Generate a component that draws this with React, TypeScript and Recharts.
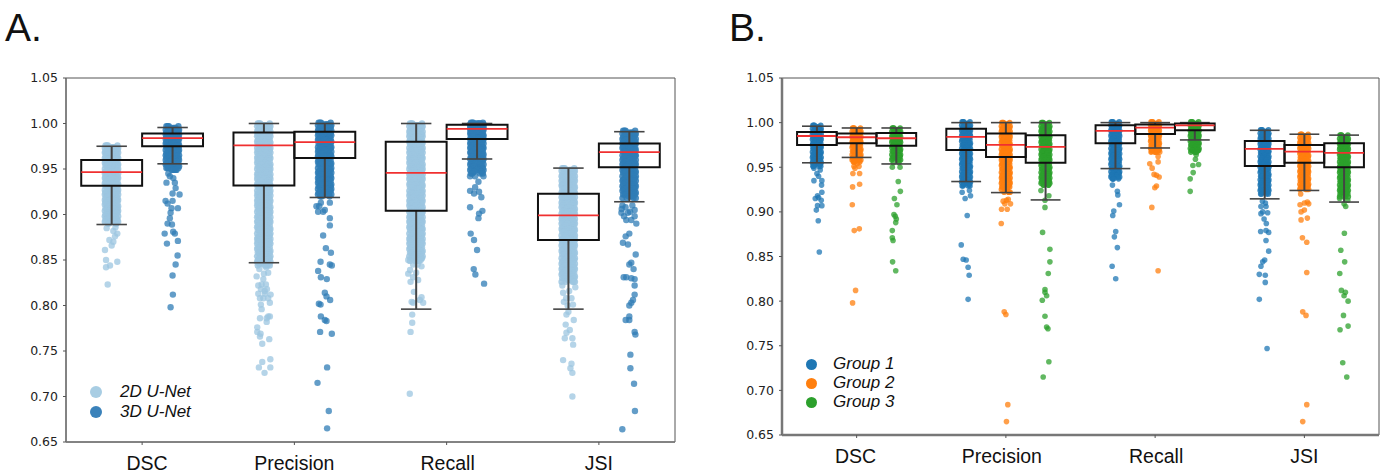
import React from 'react';
import { ScatterChart, Scatter, XAxis, YAxis, ReferenceArea } from 'recharts';

const metrics = ['DSC', 'Precision', 'Recall', 'JSI'];
const yTicks = [0.65, 0.7, 0.75, 0.8, 0.85, 0.9, 0.95, 1.0, 1.05];

// core = the dense part of each strip (values x 1000), tail = [jitter, value] x 1000
const coreJitter = [-0.9, 0.3, -0.4, 0.85, -0.1, 0.6, -0.7, 0.15, 0.95, -0.55, 0.45, -1, 0.7];

// panel A
const dsc2dCore = [976, 974, 973, 971, 969, 968, 966, 964, 962, 961, 959, 957, 955, 954, 952, 950, 948, 947, 945, 943, 941, 940, 938, 936, 934, 933, 931, 929, 927, 925, 924, 922, 920, 918, 916, 915, 913, 911, 909, 907, 906, 904, 902, 900, 898, 896, 894, 892, 890];
const dsc2dTail = [[-44, 861], [-37, 850], [37, 848], [-11, 844], [-37, 842], [-26, 823], [0, 866], [11, 870], [22, 876], [37, 879], [-33, 885], [11, 882], [-15, 872], [25, 886]];
const dsc3dCore = [997, 995, 993, 992, 990, 988, 986, 985, 983, 981, 979, 978, 976, 974, 972, 971, 969, 967, 965, 964, 962, 960, 958, 956, 955, 953, 951, 949];
const dsc3dTail = [[46, 922], [0, 923], [20, 929], [-46, 915], [0, 915], [-33, 912], [-7, 907], [35, 907], [-13, 902], [-18, 896], [-33, 890], [-4, 889], [4, 881], [15, 879], [-52, 879], [35, 871], [-37, 868], [33, 855], [20, 845], [0, 833], [2, 812], [-13, 798], [-40, 935], [15, 935], [-18, 942], [26, 949], [-28, 945], [5, 940]];
const prec2dCore = [1000, 998, 997, 995, 993, 991, 989, 988, 986, 984, 982, 980, 979, 977, 975, 973, 971, 970, 968, 966, 964, 962, 961, 959, 957, 955, 953, 952, 950, 948, 946, 944, 943, 941, 939, 937, 935, 933, 932, 930, 928, 926, 924, 923, 921, 919, 917, 915, 913, 912, 910, 908, 906, 904, 903, 901, 899, 897, 895, 893, 892, 890, 888, 886, 884, 883, 881, 879, 877, 875, 873, 872, 870, 868, 866, 864, 862, 860, 858, 856, 854, 852, 850, 848, 846, 844];
const prec2dTail = [[28, 788], [39, 788], [18, 782], [-26, 786], [-44, 776], [-44, 771], [-22, 769], [-26, 766], [35, 763], [-11, 758], [42, 741], [-11, 738], [-33, 732], [42, 732], [4, 726], [-15, 796], [39, 803], [-20, 801], [18, 786], [44, 812], [7, 813], [-37, 813], [-4, 808], [28, 808], [-26, 808], [-48, 832], [28, 836], [-15, 823], [13, 823], [-37, 822], [-4, 829], [-30, 840], [15, 842], [0, 835], [-20, 818], [20, 818], [5, 816]];
const prec3dCore = [1001, 999, 998, 996, 994, 992, 991, 989, 987, 985, 983, 982, 980, 978, 976, 974, 973, 971, 969, 967, 965, 964, 962, 960, 958, 956, 955, 953, 951, 949, 947, 946, 944, 942, 940, 938, 937, 935, 933, 931, 929, 928, 926, 924, 922, 920];
const prec3dTail = [[33, 896], [33, 888], [-11, 877], [7, 863], [40, 858], [-28, 848], [33, 845], [46, 844], [-44, 838], [-26, 831], [13, 829], [0, 814], [11, 810], [35, 806], [-39, 802], [-28, 801], [-26, 788], [0, 784], [11, 783], [-31, 771], [46, 769], [15, 732], [-48, 715], [26, 684], [15, 665], [-55, 909], [-11, 903], [-44, 903], [0, 905], [33, 913], [-26, 913], [-37, 909]];
const rec2dCore = [1000, 998, 997, 995, 993, 991, 989, 988, 986, 984, 982, 980, 979, 977, 975, 973, 971, 970, 968, 966, 964, 962, 961, 959, 957, 955, 953, 952, 950, 948, 946, 944, 943, 941, 939, 937, 935, 933, 932, 930, 928, 926, 924, 923, 921, 919, 917, 915, 913, 912, 910, 908, 906, 904, 903, 901, 899, 897, 895, 893, 892, 890, 888, 886, 884, 883, 881, 879, 877, 875, 873, 872, 870, 868, 866, 864, 862, 860, 858, 856, 854, 852, 849];
const rec2dTail = [[-26, 790], [-26, 781], [-37, 771], [-42, 703], [35, 809], [46, 803], [-20, 803], [-30, 804], [24, 806], [-15, 815], [13, 828], [-37, 826], [-20, 831], [-52, 835], [0, 836], [-52, 850], [30, 850], [35, 843], [-40, 839], [10, 845], [-20, 845]];
const rec3dCore = [1001, 1000, 999, 998, 997, 996, 995, 994, 993, 992, 990, 989, 987, 986, 984, 983, 981, 979, 978, 976, 974, 973, 971, 969, 968, 966, 964, 962, 961, 959, 957, 955, 953, 951, 949, 947, 945];
const rec3dTail = [[42, 942], [-46, 942], [-13, 942], [9, 936], [-13, 930], [-46, 926], [-20, 923], [13, 925], [28, 919], [-46, 908], [35, 904], [13, 901], [9, 896], [-42, 879], [-20, 872], [0, 861], [-22, 840], [-11, 834], [46, 824]];
const jsi2dCore = [951, 949, 948, 946, 944, 942, 941, 939, 937, 935, 933, 932, 930, 928, 926, 924, 923, 921, 919, 917, 915, 913, 912, 910, 908, 906, 904, 903, 901, 899, 897, 895, 893, 892, 890, 888, 886, 884, 883, 881, 879, 877, 875, 873, 872, 870, 868, 866, 864, 862, 860, 858, 856, 854, 852, 850, 848, 846, 844, 842, 840, 838, 836, 834, 832, 830, 828, 826];
const jsi2dTail = [[35, 826], [-35, 814], [45, 820], [-40, 822], [5, 816], [-15, 808], [20, 808], [-30, 804], [-5, 800], [30, 801], [0, 793], [-13, 790], [35, 784], [-18, 779], [9, 773], [-13, 770], [-24, 764], [26, 764], [31, 757], [-35, 740], [20, 736], [13, 731], [26, 726], [26, 700]];
const jsi3dCore = [992, 990, 989, 987, 985, 983, 982, 980, 978, 976, 974, 973, 971, 969, 967, 965, 964, 962, 960, 958, 956, 955, 953, 951, 949, 947, 946, 944, 942, 940, 938, 937, 935, 933, 931, 929, 928, 926, 924, 922, 920, 918];
const jsi3dTail = [[-52, 902], [35, 905], [46, 890], [-20, 894], [13, 894], [-9, 902], [35, 898], [0, 879], [-24, 876], [-42, 869], [-9, 867], [42, 856], [13, 847], [0, 845], [28, 840], [-37, 831], [-20, 831], [35, 829], [13, 830], [35, 822], [35, 812], [24, 806], [13, 803], [0, 800], [0, 788], [-24, 784], [0, 784], [35, 771], [40, 768], [7, 746], [7, 731], [31, 714], [37, 684], [-46, 664], [-45, 910], [-25, 908], [20, 910], [-50, 906], [5, 903], [-35, 898]];

// panel B
const dscG1Core = [997, 995, 993, 991, 989, 987, 985, 983, 981, 979, 977, 975, 973, 971, 969, 967, 965, 963, 961, 959, 957, 955, 953, 951];
const dscG1Tail = [[-20, 935], [33, 935], [31, 930], [33, 922], [4, 918], [-11, 915], [11, 916], [29, 913], [4, 907], [33, 907], [-4, 902], [9, 890], [16, 855], [22, 947], [-20, 949], [0, 943], [11, 940]];
const dscG2Core = [994, 992, 990, 988, 986, 984, 982, 980, 978, 976, 974, 972, 970, 968, 966, 964, 962, 960, 958, 956];
const dscG2Tail = [[-25, 943], [20, 943], [-27, 928], [20, 931], [-29, 908], [-16, 879], [18, 881], [-7, 812], [-27, 798], [-18, 951], [16, 951], [4, 954], [-11, 949]];
const dscG3Core = [994, 992, 990, 988, 986, 984, 982, 980, 978, 976, 974, 972, 970, 968, 966, 964, 962, 960, 958];
const dscG3Tail = [[-27, 950], [25, 950], [13, 934], [27, 923], [-13, 915], [4, 908], [-16, 897], [-7, 895], [0, 892], [-4, 888], [-27, 879], [-27, 871], [-22, 868], [-25, 844], [-4, 834], [-20, 955], [18, 955]];
const precG1Core = [1001, 999, 997, 995, 993, 991, 989, 987, 985, 983, 981, 979, 977, 975, 973, 971, 969, 967, 965, 963, 961, 959, 957, 955, 953, 951, 949, 947, 945, 943, 941, 939, 937, 935, 933, 931, 929];
const precG1Tail = [[-7, 915], [29, 918], [-27, 922], [22, 924], [7, 896], [-33, 863], [-20, 847], [0, 846], [13, 838], [20, 829], [13, 802]];
const precG2Core = [1000, 998, 996, 994, 992, 990, 988, 986, 984, 982, 980, 978, 976, 974, 972, 970, 968, 966, 964, 962, 960, 958, 956, 954, 952, 950, 948, 946, 944, 942, 940, 938, 936, 934, 932, 930, 928, 925, 922];
const precG2Tail = [[4, 913], [-29, 903], [9, 903], [31, 909], [-18, 912], [16, 914], [-7, 909], [-31, 887], [-11, 788], [0, 785], [13, 684], [4, 665]];
const precG3Core = [1000, 998, 996, 994, 992, 990, 988, 986, 984, 982, 980, 978, 976, 974, 972, 970, 968, 966, 964, 962, 960, 958, 956, 954, 952, 950, 948, 946, 944, 942, 940, 938, 936, 934, 932, 930];
const precG3Tail = [[-31, 924], [22, 918], [-4, 913], [-4, 905], [-20, 877], [29, 858], [29, 844], [18, 831], [-4, 813], [-4, 810], [7, 806], [-22, 801], [-4, 783], [7, 771], [16, 769], [22, 732], [-16, 715]];
const recG1Core = [1001, 999, 997, 995, 993, 991, 989, 987, 985, 983, 981, 979, 977, 975, 973, 971, 969, 967, 965, 963, 961, 959, 957, 955, 953, 951, 949, 947, 945, 943, 941, 939, 937];
const recG1Tail = [[-20, 930], [13, 923], [16, 919], [27, 908], [-11, 901], [-18, 896], [2, 878], [-7, 872], [13, 860], [-22, 839], [2, 825]];
const recG2Core = [1001, 999, 997, 995, 993, 991, 989, 987, 985, 983, 981, 979, 977, 975, 973, 971, 969, 967];
const recG2Tail = [[-22, 968], [20, 962], [31, 967], [20, 956], [-36, 954], [-20, 949], [-7, 942], [9, 941], [27, 939], [9, 929], [-2, 927], [-22, 905], [20, 834]];
const recG3Core = [1001, 999, 997, 995, 993, 991, 989, 987, 985, 983, 981, 979, 977, 975, 973, 971, 969, 967];
const recG3Tail = [[9, 964], [4, 959], [-13, 952], [25, 953], [-11, 944], [-31, 937], [-31, 923]];
const jsiG1Core = [992, 990, 988, 986, 984, 982, 980, 978, 976, 974, 972, 970, 968, 966, 964, 962, 960, 958, 956, 954, 952, 950, 948, 946, 944, 942, 940, 938, 936, 934, 932, 930, 928, 926, 924, 922, 920];
const jsiG1Tail = [[-25, 906], [9, 906], [-25, 898], [20, 899], [-13, 900], [-4, 892], [11, 887], [-27, 878], [9, 879], [27, 877], [9, 868], [27, 856], [0, 846], [-13, 844], [-25, 839], [-36, 830], [4, 829], [4, 821], [-36, 802], [16, 747], [-15, 912], [5, 910]];
const jsiG2Core = [987, 985, 983, 981, 979, 977, 975, 973, 971, 969, 967, 965, 963, 961, 959, 957, 955, 953, 951, 949, 947, 945, 943, 941, 939, 937, 935, 933, 931, 929, 927, 925];
const jsiG2Tail = [[-29, 908], [0, 910], [29, 909], [-22, 900], [0, 902], [-22, 891], [20, 893], [-13, 871], [16, 866], [16, 832], [-11, 788], [11, 784], [16, 684], [-11, 665], [20, 911], [-25, 920]];
const jsiG3Core = [986, 984, 982, 980, 978, 976, 974, 972, 970, 968, 966, 964, 962, 960, 958, 956, 954, 952, 950, 948, 946, 944, 942, 940, 938, 936, 934, 932, 930, 928, 926, 924, 922, 920, 917];
const jsiG3Tail = [[11, 906], [0, 909], [2, 876], [-22, 857], [4, 844], [-29, 831], [-18, 812], [9, 810], [0, 806], [27, 800], [-4, 784], [27, 772], [-27, 768], [-9, 731], [18, 715], [-30, 915], [25, 913]];

// boxes: q1, median, q3, lower whisker, upper whisker
const dsc2dBox = [0.9315, 0.9465, 0.96, 0.889, 0.975];
const dsc3dBox = [0.975, 0.984, 0.989, 0.9557, 0.9956];
const prec2dBox = [0.932, 0.976, 0.99, 0.847, 1.0];
const prec3dBox = [0.962, 0.9795, 0.991, 0.9187, 1.0];
const rec2dBox = [0.904, 0.9458, 0.98, 0.796, 1.0];
const rec3dBox = [0.983, 0.994, 0.9985, 0.961, 1.0];
const jsi2dBox = [0.872, 0.899, 0.9227, 0.796, 0.951];
const jsi3dBox = [0.952, 0.9685, 0.978, 0.914, 0.991];

const dscG1Box = [0.975, 0.985, 0.9896, 0.955, 0.996];
const dscG2Box = [0.977, 0.9836, 0.9877, 0.961, 0.994];
const dscG3Box = [0.974, 0.9825, 0.9884, 0.9537, 0.994];
const precG1Box = [0.9694, 0.984, 0.993, 0.934, 1.0];
const precG2Box = [0.9616, 0.975, 0.9877, 0.9216, 1.0];
const precG3Box = [0.955, 0.9728, 0.9858, 0.9134, 1.0];
const recG1Box = [0.977, 0.9907, 0.997, 0.9485, 1.0];
const recG2Box = [0.9873, 0.9944, 0.998, 0.9716, 1.0];
const recG3Box = [0.9914, 0.997, 0.999, 0.9806, 1.0];
const jsiG1Box = [0.9515, 0.9705, 0.9795, 0.9146, 0.9914];
const jsiG2Box = [0.955, 0.9675, 0.975, 0.924, 0.987];
const jsiG3Box = [0.95, 0.966, 0.977, 0.911, 0.986];

type Group = { name: string; color: string; legend: string; offset: number; core: number[][]; tails: number[][][]; boxes: number[][] };

const panelA: Group[] = [
  { name: '2D U-Net', color: '#9cc6e0', legend: '#a8cde3', offset: -0.2, core: [dsc2dCore, prec2dCore, rec2dCore, jsi2dCore], tails: [dsc2dTail, prec2dTail, rec2dTail, jsi2dTail], boxes: [dsc2dBox, prec2dBox, rec2dBox, jsi2dBox] },
  { name: '3D U-Net', color: '#2f7cb6', legend: '#3a82ba', offset: 0.2, core: [dsc3dCore, prec3dCore, rec3dCore, jsi3dCore], tails: [dsc3dTail, prec3dTail, rec3dTail, jsi3dTail], boxes: [dsc3dBox, prec3dBox, rec3dBox, jsi3dBox] },
];

const panelB: Group[] = [
  { name: 'Group 1', color: '#1f77b4', legend: '#1f77b4', offset: -0.266, core: [dscG1Core, precG1Core, recG1Core, jsiG1Core], tails: [dscG1Tail, precG1Tail, recG1Tail, jsiG1Tail], boxes: [dscG1Box, precG1Box, recG1Box, jsiG1Box] },
  { name: 'Group 2', color: '#ff7f0e', legend: '#ff7f0e', offset: 0, core: [dscG2Core, precG2Core, recG2Core, jsiG2Core], tails: [dscG2Tail, precG2Tail, recG2Tail, jsiG2Tail], boxes: [dscG2Box, precG2Box, recG2Box, jsiG2Box] },
  { name: 'Group 3', color: '#2ca02c', legend: '#2ca02c', offset: 0.266, core: [dscG3Core, precG3Core, recG3Core, jsiG3Core], tails: [dscG3Tail, precG3Tail, recG3Tail, jsiG3Tail], boxes: [dscG3Box, precG3Box, recG3Box, jsiG3Box] },
];

function stripPoints(group: Group, spread: number) {
  const points: { x: number; y: number; solid: boolean }[] = [];
  const n = coreJitter.length;
  group.core.forEach((core, m) => {
    core.forEach((v, i) => {
      // each core value sits at a few jitter slots so the band closes up like the original
      [0, 3, 6, 9].forEach((slot) => {
        points.push({ x: m + group.offset + coreJitter[(i + slot) % n] * spread, y: v / 1000, solid: true });
      });
    });
    group.tails[m].forEach(([dx, v]) => points.push({ x: m + group.offset + dx / 1000, y: v / 1000, solid: false }));
  });
  return points;
}

const noDot = () => <g />;

// each box part is a path through the library's scales, drawn after the dots so it stays on top
function boxPaths(g: Group, boxWidth: number, cap: number) {
  const out: any[] = [];
  g.boxes.forEach(([q1, med, q3, lo, hi], m) => {
    const c = m + g.offset;
    const half = boxWidth / 2;
    out.push(
      { color: '#444', w: 2, pts: [{ x: c, y: q3 }, { x: c, y: hi }] },
      { color: '#444', w: 2, pts: [{ x: c, y: q1 }, { x: c, y: lo }] },
      { color: '#444', w: 1.6, pts: [{ x: c - cap, y: hi }, { x: c + cap, y: hi }] },
      { color: '#444', w: 1.6, pts: [{ x: c - cap, y: lo }, { x: c + cap, y: lo }] },
      { color: '#111', w: 2, pts: [{ x: c - half, y: q1 }, { x: c + half, y: q1 }, { x: c + half, y: q3 }, { x: c - half, y: q3 }, { x: c - half, y: q1 }, { x: c, y: q1 }] },
      { color: '#f03030', w: 1.8, pts: [{ x: c - half, y: med }, { x: c + half, y: med }] }
    );
  });
  return out;
}

function Panel({ groups, left, width, marginLeft, marginRight, xHeight, boxWidth, spread, r, cap, nudge, axisW }: any) {
  const paths = groups.flatMap((g: Group) => boxPaths(g, boxWidth, cap).map((p, i) => ({ ...p, id: g.name + i })));
  return (
    <div style={{ position: 'absolute', left, top: 0 }}>
      <ScatterChart width={width} height={475} margin={{ top: 78, right: marginRight, bottom: 0, left: marginLeft }}>
        <XAxis
          type="number"
          dataKey="x"
          domain={[-0.5, 3.5]}
          ticks={[0, 1, 2, 3]}
          height={xHeight}
          tickSize={3}
          tickMargin={6}
          axisLine={{ stroke: '#777', strokeWidth: axisW }}
          tickLine={{ stroke: '#555' }}
          interval={0}
          tick={(p: any) => (
            <text x={p.x + nudge[p.payload.value]} y={p.y + 19} textAnchor="middle" fill="#111" fontSize={19.5} fontFamily="Liberation Sans">
              {metrics[p.payload.value]}
            </text>
          )}
        />
        <YAxis
          type="number"
          dataKey="y"
          domain={[0.65, 1.05]}
          ticks={yTicks}
          tickFormatter={(v) => v.toFixed(2)}
          width={50}
          tickSize={3}
          tickMargin={5}
          axisLine={{ stroke: '#777', strokeWidth: axisW }}
          tickLine={{ stroke: '#555' }}
          interval={0}
          tick={{ fill: '#222', fontSize: 12.5, fontFamily: 'DejaVu Sans' }}
        />
        <ReferenceArea x1={-0.5} x2={3.5} y1={0.65} y2={1.05} fill="none" stroke="#555" strokeWidth={1} ifOverflow="visible" />
        {groups.map((g: Group) => (
          <Scatter
            key={g.name}
            data={stripPoints(g, spread)}
            fill={g.color}
            shape={(p: any) => <circle cx={p.cx} cy={p.cy} r={r} fill={g.color} fillOpacity={p.payload.solid ? 0.85 : 0.75} />}
            isAnimationActive={false}
          />
        ))}
        {paths.map((p: any) => (
          <Scatter key={p.id} data={p.pts} line={{ stroke: p.color, strokeWidth: p.w }} lineType="joint" shape={noDot} fill="none" legendType="none" isAnimationActive={false} />
        ))}
      </ScatterChart>
    </div>
  );
}

function LegendRows({ groups, x, y, rowGap, textGap, r }: any) {
  return (
    <>
      {groups.map((g: Group, i: number) => (
        <div key={g.name} style={{ position: 'absolute', left: x - r, top: y + i * rowGap - 12, height: 24, display: 'flex', alignItems: 'center' }}>
          <span style={{ width: r * 2, height: r * 2, borderRadius: '50%', background: g.legend, display: 'inline-block' }} />
          <span style={{ marginLeft: textGap - r, fontFamily: 'Liberation Sans', fontStyle: 'italic', fontSize: 17, color: '#111' }}>{g.name}</span>
        </div>
      ))}
    </>
  );
}

export default function App() {
  const heading: React.CSSProperties = { position: 'absolute', top: 6, fontFamily: 'Liberation Sans', fontSize: 39, color: '#111' };
  return (
    <div style={{ position: 'fixed', left: 0, top: 0, width: 1385, height: 475, background: '#fff', overflow: 'hidden' }}>
      <div style={{ ...heading, left: 5 }}>A.</div>
      <div style={{ ...heading, left: 729 }}>B.</div>
      <Panel groups={panelA} left={0} width={690} marginLeft={16} marginRight={15} xHeight={33} boxWidth={0.4} spread={0.045} r={3.2} cap={0.1} nudge={[5, 0, 1, 0]} axisW={1.5} />
      <Panel groups={panelB} left={700} width={685} marginLeft={32} marginRight={6} xHeight={40} boxWidth={0.266} spread={0.03} r={2.8} cap={0.1} nudge={[-1, -4, 1, 0]} axisW={2.5} />
      <LegendRows groups={panelA} x={96} y={392} rowGap={20} textGap={24} r={6} />
      <LegendRows groups={panelB} x={811} y={364} rowGap={19} textGap={22} r={5.5} />
    </div>
  );
}
